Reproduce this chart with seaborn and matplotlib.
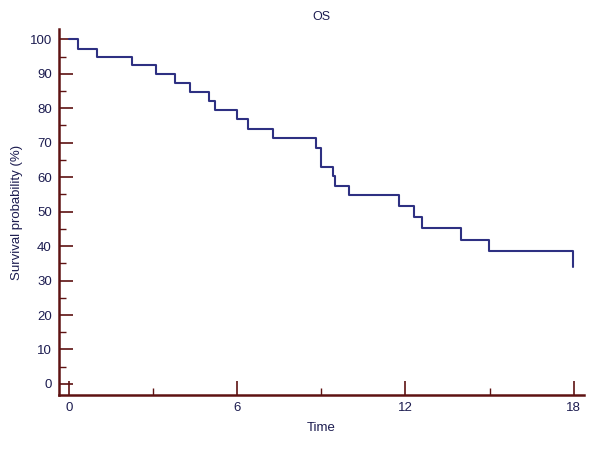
import pandas as pd
import matplotlib
matplotlib.use("Agg")
import matplotlib.pyplot as plt
from matplotlib.ticker import MultipleLocator
import seaborn as sns

# Kaplan-Meier curve (time, survival %)
times = [0, 0.31, 1.0, 2.22, 3.1, 3.79, 4.31, 5.0, 5.2, 6.0, 6.39, 7.28,
         8.80, 8.98, 9.40, 9.49, 9.99, 11.78, 12.30, 12.59, 13.99, 14.98, 17.97]
surv = [100, 97.3, 95.0, 92.5, 89.9, 87.3, 84.7, 82.2, 79.5, 76.8, 74.0, 71.3,
        68.6, 63.0, 60.3, 57.5, 54.7, 51.6, 48.4, 45.3, 41.8, 38.5, 33.9]
x_ticks = [0, 6, 12, 18]
y_ticks = list(range(0, 101, 10))

axis_col = "#5e1212"
text_col = "#1c1c50"
line_col = "#2e3082"

sns.set_style("white")
plt.rcParams["font.family"] = ["Liberation Sans", "DejaVu Sans"]

df = pd.DataFrame({"Time": times, "Survival": surv})

fig = plt.figure(figsize=(6, 4.49), dpi=100)
ax = fig.add_axes([0.0978, 0.1203, 0.8763, 0.8144])

sns.lineplot(data=df, x="Time", y="Survival", ax=ax, drawstyle="steps-post",
             color=line_col, linewidth=1.5, sort=False)

ax.set_xlim(-0.38, 18.39)
ax.set_ylim(-3.2, 102.9)
ax.set_xticks(x_ticks)
ax.set_yticks(y_ticks)
ax.xaxis.set_minor_locator(MultipleLocator(3))
ax.yaxis.set_minor_locator(MultipleLocator(5))

for s in ["top", "right"]:
    ax.spines[s].set_visible(False)
for s in ["left", "bottom"]:
    ax.spines[s].set_color(axis_col)
    ax.spines[s].set_linewidth(1.8)

ax.tick_params(which="both", bottom=True, left=True, top=False, right=False)
ax.tick_params(which="major", direction="in", length=10, width=1.2,
               color=axis_col, labelcolor=text_col, labelsize=9.5, pad=5)
ax.tick_params(which="minor", direction="in", length=5, width=1.0,
               color=axis_col)

ax.set_title("OS", fontsize=9, color=text_col, pad=7)
ax.set_xlabel("Time", fontsize=9.5, color=text_col, labelpad=6)
ax.set_ylabel("Survival probability (%)", fontsize=9.5, color=text_col, labelpad=5)

fig.savefig("out.png", dpi=100)
